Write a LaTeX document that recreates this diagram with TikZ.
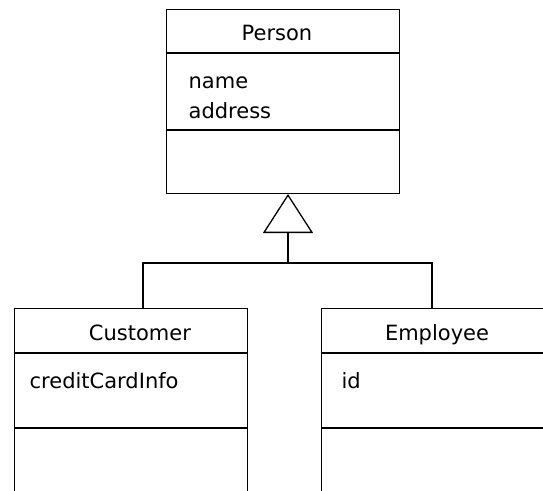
\documentclass[tikz,border=0pt]{standalone}
\usepackage{fontspec}
\setmainfont{DejaVu Sans}
\usetikzlibrary{arrows.meta}
\usetikzlibrary{calc}
\tikzset{>=latex}
\tikzset{classbox/.style={draw, rectangle, inner sep=0pt, anchor=north west, minimum width=233pt}}
\tikzset{umltext/.style={font=\fontsize{21}{25}\selectfont, inner sep=0pt}}

\begin{document}
\begin{tikzpicture}[x=1pt,y=-1pt,line width=1.3pt]
  \useasboundingbox (0,0) rectangle (543,490);
  \clip (0,0) rectangle (543,490);
  % superclass
  \node[classbox, minimum height=184pt] (person) at (166,9) {};
  \draw (166,53) -- (399,53);
  \draw (166,130) -- (399,130);
  \node[umltext, anchor=base] (personname) at (277,40) {Person};
  \node[umltext, anchor=base west] (attrname) at (188,88) {name};
  \node[umltext, anchor=base west] (attraddress) at (188,118) {address};
  % subclasses
  \node[classbox, minimum height=300pt] (customer) at (14,308) {};
  \draw (14,353) -- (247,353);
  \draw (14,428) -- (247,428);
  \node[umltext, anchor=base] (customername) at (140,340) {Customer};
  \node[umltext, anchor=base west] (attrcard) at (29,388) {creditCardInfo};
  \node[classbox, minimum height=300pt] (employee) at (321,308) {};
  \draw (321,353) -- (554,353);
  \draw (321,428) -- (554,428);
  \node[umltext, anchor=base] (employeename) at (437,340) {Employee};
  \node[umltext, anchor=base west] (attrid) at (341,388) {id};
  % generalization
  \coordinate (apex) at (288,194);
  \coordinate (bar) at (288,263);
  \coordinate (custtop) at (143,308);
  \coordinate (emptop) at (432,308);
  \draw (custtop) -- (custtop |- bar) -- (emptop |- bar) -- (emptop);
  \draw[-{Triangle[open,length=39pt,width=50pt]}] (bar) -- (apex);
\end{tikzpicture}
\end{document}
